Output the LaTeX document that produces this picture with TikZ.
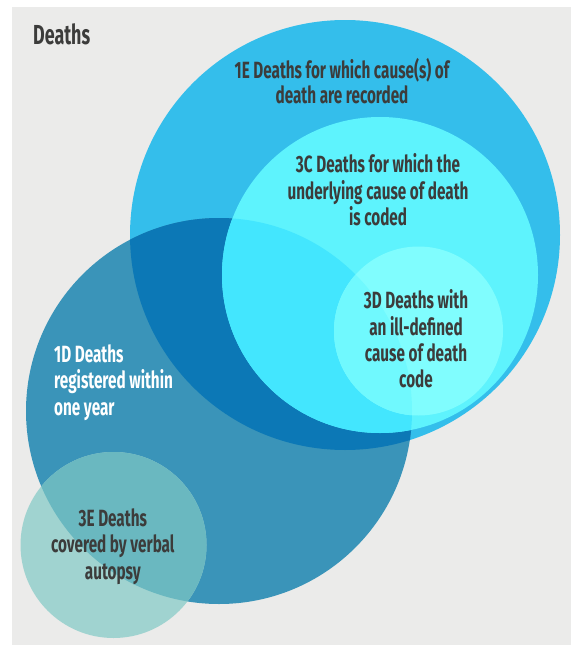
\documentclass[tikz,border=0pt]{standalone}
\usepackage{fontspec}
\setmainfont{Fira Sans}[FakeStretch=0.65]
\definecolor{bg}{HTML}{EBEBEA}
\definecolor{cE}{HTML}{34BEEB}
\definecolor{cD}{HTML}{3A94B9}
\definecolor{cED}{HTML}{0C78B6}
\definecolor{cC}{HTML}{5EF3FD}
\definecolor{cCD}{HTML}{43E6FE}
\definecolor{cDD}{HTML}{80FDFE}
\definecolor{cDDD}{HTML}{70F9FE}
\definecolor{cV}{HTML}{A0D3D0}
\definecolor{cVD}{HTML}{6AB8C0}
\definecolor{txt}{HTML}{3C3C3B}
\begin{document}
\begin{tikzpicture}[x=1pt,y=-1pt,
  lbl/.style={inner sep=0pt,font=\bfseries\fontsize{23.5}{27}\selectfont,text=txt},
  wlbl/.style={lbl,text=white}]
\useasboundingbox (0,0) rectangle (571,645);
\fill[white] (0,0) rectangle (571,645);
\fill[bg] (12,7) rectangle (571,645);
% circles
\def\cE{(345,235) circle[radius=215]}
\def\cC{(380,275) circle[radius=158]}
\def\cDd{(418.5,331) circle[radius=84.5]}
\def\cOne{(219,411) circle[radius=193]}
\def\cV{(113.5,545) circle[radius=93]}
\fill[cE] \cE;
\fill[cD] \cOne;
\begin{scope}\clip \cE; \fill[cED] \cOne; \end{scope}
\fill[cC] \cC;
\begin{scope}\clip \cOne; \fill[cCD] \cC; \end{scope}
\fill[cDD] \cDd;
\begin{scope}\clip \cOne; \fill[cDDD] \cDd; \end{scope}
\fill[cV] \cV;
\begin{scope}\clip \cOne; \fill[cVD] \cV; \end{scope}
% texts
\node[lbl,anchor=base west,font=\bfseries\fontsize{27.5}{31}\selectfont] (title) at (33,44.5) {Deaths};
\node[lbl,anchor=base] (e1) at (342,78.3) {1E Deaths for which cause(s) of};
\node[lbl,anchor=base] (e2) at (342,103.3) {death are recorded};
\node[lbl,anchor=base] (c1) at (378,172) {3C Deaths for which the};
\node[lbl,anchor=base] (c2) at (378,199) {underlying cause of death};
\node[lbl,anchor=base] (c3) at (378,225.5) {is coded};
\node[lbl,anchor=base] (d1) at (416,308.5) {3D Deaths with};
\node[lbl,anchor=base] (d2) at (416,335) {an ill-defined};
\node[lbl,anchor=base] (d3) at (416,361) {cause of death};
\node[lbl,anchor=base] (d4) at (416,387) {code};
\node[wlbl,anchor=base west] (r1) at (54,362) {1D Deaths};
\node[wlbl,anchor=base west] (r2) at (54,388.5) {registered within};
\node[wlbl,anchor=base west] (r3) at (54,415) {one year};
\node[lbl,anchor=base] (v1) at (112.8,526) {3E Deaths};
\node[lbl,anchor=base] (v2) at (112.8,552.5) {covered by verbal};
\node[lbl,anchor=base] (v3) at (112.8,579) {autopsy};
\end{tikzpicture}
\end{document}
